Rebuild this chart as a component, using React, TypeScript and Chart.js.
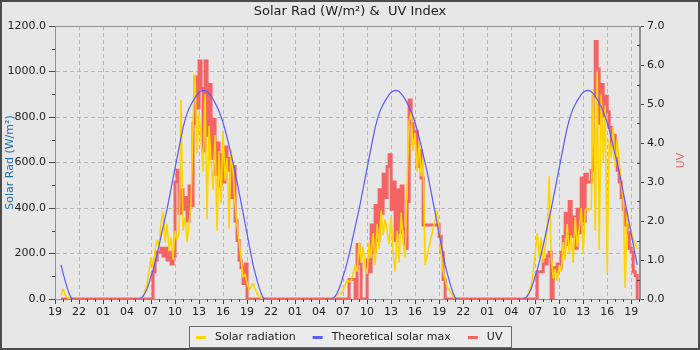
import React, { useEffect, useRef } from 'react';
import { Chart, registerables } from 'chart.js';

Chart.register(...registerables);

// ---------- text ----------
const TITLE = 'Solar Rad (W/m²) &  UV Index';
const LEFT_AXIS_TITLE = 'Solar Rad (W/m²)';
const RIGHT_AXIS_TITLE = 'UV';
const SERIES_LABELS = ['Solar radiation', 'Theoretical solar max', 'UV'];

// x axis: hours since 19:00 of the first day, a tick every 3 hours
const X_TICK_LABELS = [
  '19', '22', '01', '04', '07', '10', '13', '16',
  '19', '22', '01', '04', '07', '10', '13', '16',
  '19', '22', '01', '04', '07', '10', '13', '16', '19',
];
const X_MIN = 0;
const X_MAX = 73.1;
const X_STEP = 3;
const Y_LEFT_MAX = 1200;
const Y_LEFT_STEP = 200;
const Y_RIGHT_MAX = 7;
const Y_RIGHT_STEP = 1;

// each series is sampled every 15 minutes
const SAMPLE_STEP_H = 0.25;
// start of each daylight block (hours since 19:00 of day 1): 19:45 d1, 05:30 d2, 05:30 d3, 05:30 d4
const BLOCK_STARTS = [0.75, 10.5, 34.5, 58.5];
// a point inside each night, where solar lines break
const NIGHT_BREAKS = [5, 29, 53];

// theoretical solar max, 05:30 .. 21:15 every 15 min (W/m²)
const THEO_PROFILE = [
  0, 4, 12, 26, 45, 70, 100, 128, 160, 196, 235, 275, 315, 355, 395, 440,
  485, 530, 575, 620, 665, 710, 752, 786, 815, 837, 855, 871, 885, 898, 908, 914,
  917, 916, 912, 903, 892, 878, 862, 845, 825, 801, 775, 744, 710, 674, 635, 598,
  560, 516, 470, 425, 380, 333, 287, 240, 195, 150, 115, 82, 52, 25, 5, 0,
];

// solar radiation (W/m²)
const SOLAR_DAY1 = [15, 45, 20, 8, 2, 0];
const SOLAR_DAY2 = [
  0, 3, 12, 35, 70, 120, 185, 140, 215, 260, 230, 330, 385, 250, 330, 210,
  270, 175, 300, 260, 290, 875, 300, 360, 250, 330, 420, 780, 990, 640, 820, 700,
  560, 900, 350, 760, 600, 480, 720, 300, 650, 420, 740, 520, 620, 310, 660, 560,
  420, 330, 250, 180, 95, 110, 70, 40, 55, 70, 45, 25, 12, 4, 0,
];
const SOLAR_DAY3 = [
  0, 3, 10, 20, 25, 22, 40, 60, 85, 75, 80, 110, 150, 120, 250, 160,
  230, 140, 110, 250, 180, 290, 150, 330, 220, 390, 280, 350, 300, 240, 360, 200,
  120, 300, 160, 380, 250, 180, 520, 780, 820, 650, 730, 560, 690, 540, 620, 150,
  null, null, null, null, null, 390, 300, 200, 120, 85, 55, 40, 25, 10, 0,
];
const SOLAR_DAY4 = [
  0, 3, 15, 35, 60, 120, 200, 290, 180, 270, 160, 230, 300, 540, 200, 90,
  130, 80, 150, 120, 250, 170, 330, 200, 280, 160, 360, 230, 310, 400, 200, 390,
  400, 390, 395, 920, 300, 1000, 215, 900, 600, 850, 115, 700, 620, 755, 580, 700,
  600, 520, 430, 50, 380, 330, 300, 260, 240, 220,
];

// UV index
const UV_DAY1 = [0, 0, 0, 0, 0, 0];
const UV_DAY2 = [
  0, 0, 0, 0, 0, 0, 0, 0.7, 1.0, 1.2, 1.2, 1.3, 1.1, 1.3, 1.0, 1.2,
  0.9, 1.1, 3.0, 3.3, 2.2, 2.8, 2.3, 2.6, 2.0, 2.9, 2.4, 4.5, 5.7, 4.9, 6.1, 5.4,
  3.8, 6.1, 4.2, 5.5, 3.6, 4.6, 3.2, 4.0, 2.9, 3.7, 3.0, 3.9, 3.3, 3.6, 2.6, 3.4,
  2.0, 1.5, 1.0, 0.8, 0.4, 0.9, 0, 0, 0, 0, 0, 0, 0, 0, 0,
];
const UV_DAY3 = [
  0, 0, 0, 0, 0, 0, 0, 0, 0, 0.5, 0.5, 0.5, 0, 1.4, 0.9, 0,
  0, 0, 1.0, 0.7, 1.9, 1.2, 2.4, 1.5, 2.8, 2.2, 3.2, 2.6, 3.4, 3.7, 2.3, 3.0,
  1.5, 2.8, 1.7, 2.9, 1.8, 1.3, 2.5, 5.1, 4.5, 4.0, 4.3, 3.4, 3.8, 3.1, 1.9, null,
  null, null, null, null, null, null, 1.6, 1.2, 0.5, 0, 0, 0, 0, 0, 0,
];
const UV_DAY4 = [
  0, 0, 0, 0, 0, 0, 0, 0.7, 0.7, 0.7, 1.0, 0.9, 1.1, 1.2, 0, 0.8,
  0.7, 0.9, 0.8, 1.2, 1.6, 2.2, 1.4, 2.5, 1.6, 2.1, 1.3, 2.3, 1.7, 3.1, 2.0, 3.2,
  3.0, 3.0, 3.3, 5.2, 6.6, 5.9, 4.5, 5.5, 4.7, 5.2, 4.8, 4.4, 3.9, 4.2, 3.6, 3.3,
  3.0, 2.6, 2.3, 1.9, 1.7, 1.3, 1.2, 0.7, 0.6, 0,
];

// ---------- style ----------
const FONT = '"DejaVu Sans", "Liberation Sans", sans-serif';
const BG = '#e7e7e7';
const YELLOW = '#ffd400';
const BLUE = '#5a5aff';
const RED = '#f46464';
const GRID = '#b6b6b6';
const TEXT = '#222222';

type Pt = { x: number; y: number | null };

function blockPoints(start: number, values: (number | null)[]): Pt[] {
  const pts: Pt[] = [];
  values.forEach((v, i) => {
    if (v !== null) pts.push({ x: start + i * SAMPLE_STEP_H, y: v });
  });
  return pts;
}

function joinBlocks(blocks: (number | null)[][], breakNights: boolean): Pt[] {
  const out: Pt[] = [];
  blocks.forEach((vals, i) => {
    if (i > 0 && breakNights) out.push({ x: NIGHT_BREAKS[i - 1], y: null });
    out.push(...blockPoints(BLOCK_STARTS[i], vals));
  });
  return out;
}

const decorPlugin = {
  id: 'decor',
  beforeDraw(chart: any) {
    const { ctx, width, height } = chart;
    ctx.save();
    ctx.fillStyle = BG;
    ctx.fillRect(0, 0, width, height);
    ctx.restore();
  },
  beforeDatasetsDraw(chart: any) {
    const { ctx, chartArea: a } = chart;
    ctx.save();
    ctx.strokeStyle = '#8f8f8f';
    ctx.lineWidth = 1;
    ctx.strokeRect(Math.round(a.left) + 0.5, Math.round(a.top) + 0.5, Math.round(a.right - a.left) - 1, Math.round(a.bottom - a.top));
    ctx.restore();
  },
  afterDraw(chart: any) {
    const { ctx, chartArea: a, scales } = chart;
    ctx.save();
    // minor ticks
    ctx.strokeStyle = '#444';
    ctx.lineWidth = 1;
    ctx.beginPath();
    for (let h = Math.ceil(X_MIN); h <= X_MAX; h++) {
      if (h % X_STEP === 0) continue;
      const x = Math.round(scales.x.getPixelForValue(h)) + 0.5;
      ctx.moveTo(x, a.bottom);
      ctx.lineTo(x, a.bottom + 3);
    }
    for (let v = Y_LEFT_STEP / 2; v < Y_LEFT_MAX; v += Y_LEFT_STEP) {
      const y = Math.round(scales.y.getPixelForValue(v)) + 0.5;
      ctx.moveTo(a.left - 3, y);
      ctx.lineTo(a.left, y);
    }
    for (let v = Y_RIGHT_STEP / 2; v < Y_RIGHT_MAX; v += Y_RIGHT_STEP) {
      const y = Math.round(scales.y1.getPixelForValue(v)) + 0.5;
      ctx.moveTo(a.right - 3, y);
      ctx.lineTo(a.right, y);
    }
    ctx.stroke();

    // axis titles (rotated, reading upwards)
    const midY = (a.top + a.bottom) / 2;
    ctx.font = `11px ${FONT}`;
    ctx.textAlign = 'center';
    ctx.textBaseline = 'middle';
    ctx.save();
    ctx.translate(10, midY);
    ctx.rotate(-Math.PI / 2);
    ctx.fillStyle = '#1f6fa6';
    ctx.fillText(LEFT_AXIS_TITLE, 0, 0);
    ctx.restore();
    ctx.save();
    ctx.translate(681, midY - 2);
    ctx.rotate(-Math.PI / 2);
    ctx.fillStyle = RED;
    ctx.fillText(RIGHT_AXIS_TITLE, 0, 0);
    ctx.restore();

    // legend
    const ds = chart.data.datasets;
    const lineW = 10, gapText = 9, gapItem = 17, padL = 7, padR = 9;
    ctx.font = `11px ${FONT}`;
    const widths = ds.map((d: any) => ctx.measureText(d.label).width);
    let total = padL + padR;
    widths.forEach((w: number, i: number) => {
      total += lineW + gapText + w + (i < widths.length - 1 ? gapItem : 0);
    });
    total = Math.round(total);
    const bx = Math.round(350 - total / 2);
    const by = 326;
    const bh = 21;
    ctx.fillStyle = '#ececec';
    ctx.fillRect(bx, by, total, bh);
    ctx.strokeStyle = '#6a6a6a';
    ctx.strokeRect(bx + 0.5, by + 0.5, total, bh);
    let x = bx + padL;
    const cy = by + bh / 2 + 0.5;
    ctx.textAlign = 'left';
    ds.forEach((d: any, i: number) => {
      ctx.fillStyle = d.borderColor;
      ctx.fillRect(x, Math.round(cy) - 1, lineW, 3);
      x += lineW + gapText;
      ctx.fillStyle = TEXT;
      ctx.fillText(d.label, x, cy);
      x += widths[i] + gapItem;
    });

    // outer frame
    ctx.strokeStyle = '#4c4c4c';
    ctx.lineWidth = 2;
    ctx.strokeRect(1, 1, chart.width - 2, chart.height - 2);
    ctx.restore();
  },
};

export default function App() {
  const ref = useRef<HTMLCanvasElement | null>(null);

  useEffect(() => {
    document.body.style.margin = '0';
    const canvas = ref.current;
    if (!canvas) return;

    const solar = joinBlocks([SOLAR_DAY1, SOLAR_DAY2, SOLAR_DAY3, SOLAR_DAY4], true);
    const theo = joinBlocks(
      [THEO_PROFILE.slice(57), THEO_PROFILE, THEO_PROFILE, THEO_PROFILE.slice(0, 58)],
      true,
    );
    const uv = joinBlocks([UV_DAY1, UV_DAY2, UV_DAY3, UV_DAY4], false);

    const tickFont = { family: FONT, size: 11 };

    const chart = new Chart(canvas, {
      type: 'line',
      data: {
        datasets: [
          {
            label: SERIES_LABELS[0], data: solar as any, yAxisID: 'y', order: 1,
            borderColor: YELLOW, backgroundColor: YELLOW, borderWidth: 1.6,
            pointRadius: 0, tension: 0, borderJoinStyle: 'bevel',
          },
          {
            label: SERIES_LABELS[1], data: theo as any, yAxisID: 'y', order: 0,
            borderColor: BLUE, backgroundColor: BLUE, borderWidth: 1.2,
            pointRadius: 0, tension: 0,
          },
          {
            label: SERIES_LABELS[2], data: uv as any, yAxisID: 'y1', order: 2,
            borderColor: RED, backgroundColor: RED, borderWidth: 3,
            pointRadius: 0, tension: 0, stepped: true, borderJoinStyle: 'miter',
          },
        ],
      },
      options: {
        responsive: false,
        animation: false,
        devicePixelRatio: 1,
        layout: { padding: { top: 0, left: 0, right: 0, bottom: 29 } },
        plugins: {
          legend: { display: false },
          tooltip: { enabled: false },
          title: {
            display: true, text: TITLE, color: TEXT,
            font: { family: FONT, size: 13, weight: 'normal' },
            padding: { top: 4, bottom: 6.4 },
          },
        },
        scales: {
          x: {
            type: 'linear', min: X_MIN, max: X_MAX,
            afterFit: (s: any) => { s.height = 22; },
            ticks: {
              stepSize: X_STEP, includeBounds: false, autoSkip: false, maxRotation: 0,
              padding: 2, color: TEXT, font: tickFont,
              callback: (_v: any, i: number) => X_TICK_LABELS[i],
            },
            grid: { color: GRID, tickColor: '#444', tickLength: 5, lineWidth: 1 },
            border: { color: '#666', dash: [4, 3] },
          },
          y: {
            position: 'left', min: 0, max: Y_LEFT_MAX,
            afterFit: (s: any) => { s.width = 55; },
            ticks: {
              stepSize: Y_LEFT_STEP, padding: 3, color: TEXT, font: tickFont,
              callback: (v: any) => Number(v).toFixed(1),
            },
            grid: { color: GRID, tickColor: '#444', tickLength: 6, lineWidth: 1 },
            border: { color: '#8f8f8f', dash: [4, 3] },
          },
          y1: {
            position: 'right', min: 0, max: Y_RIGHT_MAX,
            afterFit: (s: any) => { s.width = 60; },
            ticks: {
              stepSize: Y_RIGHT_STEP, padding: 3, color: TEXT, font: tickFont,
              callback: (v: any) => Number(v).toFixed(1),
            },
            grid: { drawOnChartArea: false, color: GRID, tickColor: '#444', tickLength: 4 },
            border: { color: '#8f8f8f' },
          },
        },
      },
      plugins: [decorPlugin],
    });

    return () => chart.destroy();
  }, []);

  return (
    <div style={{ width: 700, height: 350 }}>
      <canvas ref={ref} width={700} height={350} style={{ display: 'block', width: 700, height: 350 }} />
    </div>
  );
}
